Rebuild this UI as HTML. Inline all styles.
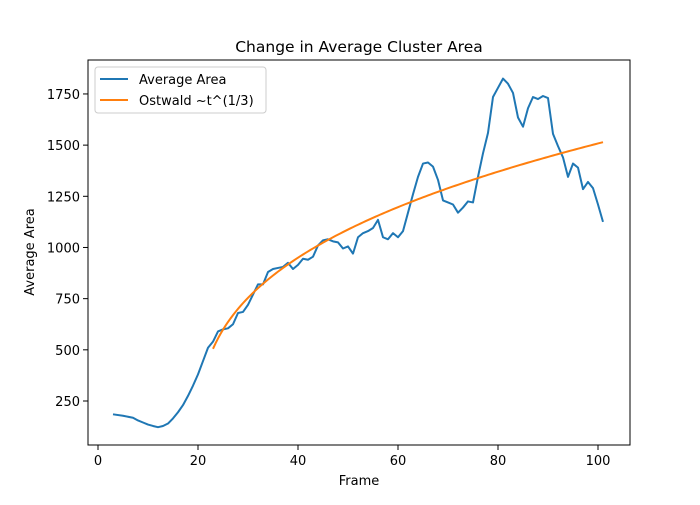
<!DOCTYPE html>
<html><head><meta charset="utf-8"><style>
body{margin:0;background:#fff}
svg text{font-family:"DejaVu Sans","Liberation Sans",sans-serif;fill:#000}
</style></head><body>
<svg id="chart" width="700" height="500" xmlns="http://www.w3.org/2000/svg">
<rect width="700" height="500" fill="#fff"/>
<text x="359" y="52" font-size="15.5" text-anchor="middle">Change in Average Cluster Area</text>
<text x="359" y="485" font-size="13" text-anchor="middle">Frame</text>
<text transform="translate(34,252) rotate(-90)" font-size="13" text-anchor="middle">Average Area</text>
<g id="ticks"></g>
<g id="series"></g>
<rect x="88" y="60" width="542" height="385" fill="none" stroke="#000" stroke-width="1"/>
<g>
<rect x="95" y="67" width="171" height="46" rx="3" fill="#fff" fill-opacity="0.8" stroke="#ccc"/>
<line x1="100" y1="79" x2="128" y2="79" stroke="#1f77b4" stroke-width="2"/>
<text x="139" y="84" font-size="13">Average Area</text>
<line x1="100" y1="100" x2="128" y2="100" stroke="#ff7f0e" stroke-width="2"/>
<text x="139" y="105" font-size="13">Ostwald ~t^(1/3)</text>
</g>
</svg>
<script>
const frames = [3,5,7,8,9,10,11,12,13,14,15,16,17,18,19,20,21,22,23,24,25,26,27,28,29,30,31,32,33,34,35,36,37,38,39,40,41,42,43,44,45,46,47,48,49,50,51,52,53,54,55,56,57,58,59,60,61,62,63,64,65,66,67,68,69,70,71,72,73,74,75,76,77,78,79,80,81,82,83,84,85,86,87,88,89,90,91,92,93,94,95,96,97,98,99,100,101];
const avgArea = [185,178,168,155,145,135,128,122,128,140,165,195,230,275,325,380,445,510,540,590,600,605,625,680,685,720,770,820,820,880,895,900,905,925,895,915,945,940,955,1010,1035,1040,1030,1025,995,1005,970,1050,1070,1080,1095,1135,1050,1040,1070,1050,1080,1170,1260,1345,1410,1415,1395,1330,1230,1220,1210,1170,1195,1225,1220,1345,1460,1560,1735,1780,1825,1800,1755,1635,1590,1680,1735,1725,1740,1730,1555,1495,1440,1345,1410,1390,1285,1320,1290,1210,1125];
const fitStart = 23, fitEnd = 101, fitT0 = 20, fitCoef = 350;
const xTicks = [0,20,40,60,80,100];
const yTicks = [250,500,750,1000,1250,1500,1750];

const xs = v => 98 + (v) * 5;
const ys = v => 401 - (v - 250) * 0.2047;
const NS = "http://www.w3.org/2000/svg";
const tg = document.getElementById('ticks');
const sg = document.getElementById('series');
function mk(tag, attrs, parent){const e=document.createElementNS(NS,tag);for(const k in attrs)e.setAttribute(k,attrs[k]);parent.appendChild(e);return e;}
xTicks.forEach(t=>{
  const l=mk('line',{x1:xs(t),x2:xs(t),y1:445,y2:450,stroke:'#000'},tg);
  
  
  const tx=mk('text',{x:xs(t),y:465,'font-size':13,'text-anchor':'middle'},tg);
  tx.textContent=t;
  
  
});
yTicks.forEach(t=>{
  const l=mk('line',{x1:83,x2:88,y1:ys(t),y2:ys(t),stroke:'#000'},tg);
  
  
  const tx=mk('text',{x:80,y:ys(t)+5,'font-size':13,'text-anchor':'end'},tg);
  tx.textContent=t;
  
  
});
const p1=mk('polyline',{points:frames.map((f,i)=>xs(f)+','+ys(avgArea[i])).join(' '),fill:'none',stroke:'#1f77b4','stroke-width':2,'stroke-linejoin':'round'},sg);


const fp=[];
for(let t=fitStart;t<=fitEnd;t+=0.5){fp.push(xs(t)+','+ys(fitCoef*Math.cbrt(t-fitT0)));}
const p2=mk('polyline',{points:fp.join(' '),fill:'none',stroke:'#ff7f0e','stroke-width':2},sg);


</script>
</body></html>
